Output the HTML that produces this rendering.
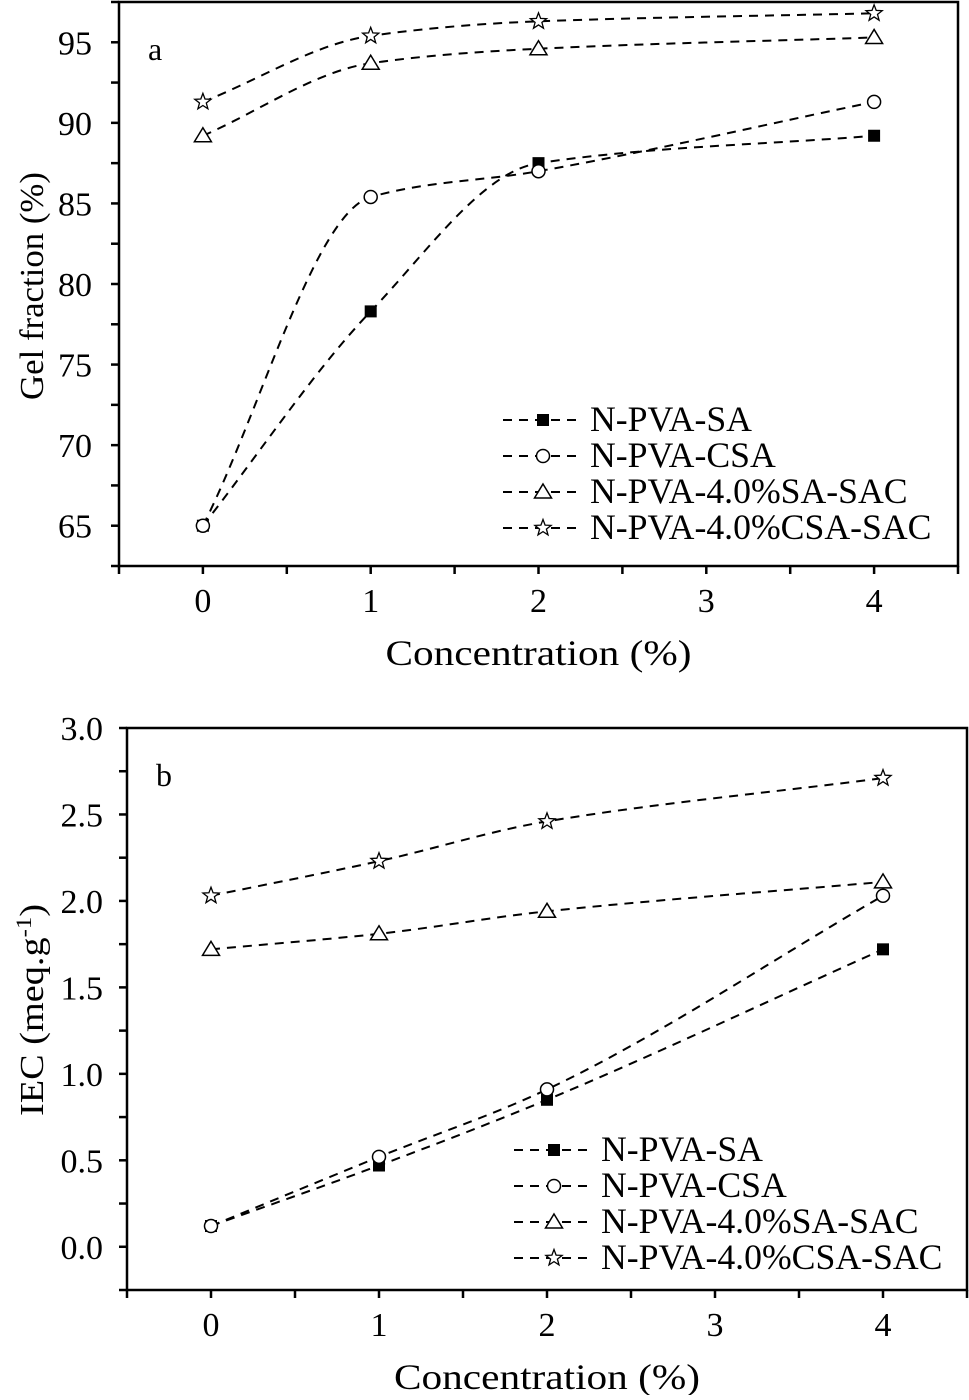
<!DOCTYPE html>
<html><head><meta charset="utf-8"><style>
body{margin:0;background:#fff}
svg text{font-family:"Liberation Serif",serif;fill:#000}
</style></head><body>
<svg id="s" width="969" height="1395" xmlns="http://www.w3.org/2000/svg"></svg>
<script>
const xCats=[0,1,2,4];
const xTicks=[0,1,2,3,4];
const aSeriesNames=["N-PVA-SA","N-PVA-CSA","N-PVA-4.0%SA-SAC","N-PVA-4.0%CSA-SAC"];
const aSA=[65,78.3,87.5,89.2];
const aCSA=[65,85.4,87.0,91.3];
const aSASAC=[89.2,93.7,94.6,95.3];
const aCSASAC=[91.3,95.4,96.3,96.8];
const aYTicks=[65,70,75,80,85,90,95];
const bSA=[0.12,0.47,0.85,1.72];
const bCSA=[0.12,0.52,0.91,2.03];
const bSASAC=[1.72,1.81,1.94,2.11];
const bCSASAC=[2.03,2.23,2.46,2.71];
const bYTicks=[0.0,0.5,1.0,1.5,2.0,2.5,3.0];
const NS="http://www.w3.org/2000/svg";
const svg=document.getElementById('s');
function el(t,a,p){const e=document.createElementNS(NS,t);for(const k in a)e.setAttribute(k,a[k]);(p||svg).appendChild(e);return e;}
function marker(g,type,x,y){
  let e;
  if(type==0){e=el('rect',{x:x-6,y:y-6,width:12,height:12,fill:'#000'},g);}
  else if(type==1){e=el('circle',{cx:x,cy:y,r:6.5,fill:'#fff',stroke:'#000','stroke-width':1.5},g);}
  else if(type==2){e=el('polygon',{points:`${x},${y-8} ${x+8.5},${y+6} ${x-8.5},${y+6}`,fill:'#fff',stroke:'#000','stroke-width':1.5},g);}
  else{let p=[];for(let i=0;i<10;i++){const r=i%2?3.6:8.5,a=-Math.PI/2+i*Math.PI/5;p.push((x+r*Math.cos(a)).toFixed(1)+','+(y+r*Math.sin(a)).toFixed(1));}
    e=el('polygon',{points:p.join(' '),fill:'#fff',stroke:'#000','stroke-width':1.3},g);}
  
  
}
function monotone(pts){
  const n=pts.length,dx=[],s=[],m=[];
  for(let i=0;i<n-1;i++){dx[i]=pts[i+1][0]-pts[i][0];s[i]=(pts[i+1][1]-pts[i][1])/dx[i];}
  m[0]=s[0];m[n-1]=s[n-2];
  for(let i=1;i<n-1;i++){m[i]=(s[i-1]*s[i]<=0)?0:2/(1/s[i-1]+1/s[i]);}
  let d=`M${pts[0][0]},${pts[0][1]}`;
  for(let i=0;i<n-1;i++){const h=dx[i]/3;
    d+=` C${pts[i][0]+h},${pts[i][1]+m[i]*h} ${pts[i+1][0]-h},${pts[i+1][1]-m[i+1]*h} ${pts[i+1][0]},${pts[i+1][1]}`;}
  return d;
}
function chart(o){
  const X=v=>o.L+(v-o.xmin)*(o.R-o.L)/(o.xmax-o.xmin);
  const Y=v=>o.B-(v-o.ymin)*(o.B-o.T)/(o.ymax-o.ymin);
  const g=el('g',{});
  
  
  const fr=el('rect',{x:o.L,y:o.T,width:o.R-o.L,height:o.B-o.T,fill:'none',stroke:'#000','stroke-width':2.5},g);
  
  
  for(let v=o.xmin;v<=o.xmax+1e-9;v+=0.5){el('line',{x1:X(v),x2:X(v),y1:o.B,y2:o.B+8,stroke:'#000','stroke-width':2.5},g);}
  xTicks.forEach(v=>{const t=el('text',{x:X(v),y:o.B+46,'font-size':34,'text-anchor':'middle'},g);t.textContent=v;
    
    });
  for(let v=o.ymin;v<=o.ymax+1e-9;v+=o.ystep/2){el('line',{x1:o.L-8,x2:o.L,y1:Y(v),y2:Y(v),stroke:'#000','stroke-width':2.5},g);}
  o.yTicks.forEach(v=>{const t=el('text',{x:o.L-o.yLabOff,y:Y(v)+12,'font-size':34,'text-anchor':'end'},g);t.textContent=v.toFixed(o.dec);
    
    });
  const xt=el('text',{x:(o.L+o.R)/2,y:o.B+99,'font-size':36,'text-anchor':'middle',textLength:306,lengthAdjust:'spacingAndGlyphs'},g);xt.textContent='Concentration (%)';
  
  
  const yt=el('text',{x:0,y:0,'font-size':34,'text-anchor':'middle',textLength:o.ytLen,lengthAdjust:'spacingAndGlyphs',transform:`translate(43,${o.ytY}) rotate(-90)`},g);
  yt.innerHTML=o.ytitle;
  
  
  const pl=el('text',{x:o.L+29,y:o.T+58,'font-size':32},g);pl.textContent=o.letter;
  
  
  o.series.forEach((s,k)=>{
    const pts=xCats.map((c,i)=>[X(c),Y(s[i])]);
    const p=el('path',{d:monotone(pts),fill:'none',stroke:'#000','stroke-width':2,'stroke-dasharray':'9 7'},g);
    
    
    pts.forEach(q=>marker(g,k,q[0],q[1]));
  });
  aSeriesNames.forEach((n,k)=>{
    const y=o.legY+k*36;
    const lg=el('g',{},g);
    
    
    el('line',{x1:o.legX,x2:o.legX+80,y1:y,y2:y,stroke:'#000','stroke-width':2,'stroke-dasharray':'9 7'},lg);
    marker(lg,k,o.legX+40,y);
    const t=el('text',{x:o.legX+87,y:y+11,'font-size':35.7},lg);t.textContent=n;
  });
}
chart({name:'chart-a',L:119,R:958,T:2,B:566,xmin:-0.5,xmax:4.5,ymin:62.5,ymax:97.5,ystep:5,yTicks:aYTicks,dec:0,yLabOff:27,
  series:[aSA,aCSA,aSASAC,aCSASAC],ytitle:'Gel fraction (%)',ytLen:228,ytY:286,letter:'a',legX:503,legY:420});
chart({name:'chart-b',L:127,R:967,T:728,B:1290,xmin:-0.5,xmax:4.5,ymin:-0.25,ymax:3.0,ystep:0.5,yTicks:bYTicks,dec:1,yLabOff:24,
  series:[bSA,bCSA,bSASAC,bCSASAC],ytitle:'IEC (meq.g<tspan baseline-shift="super" font-size="22">-1</tspan>)',ytLen:212,ytY:1010,letter:'b',legX:514,legY:1150});
</script>
</body></html>
